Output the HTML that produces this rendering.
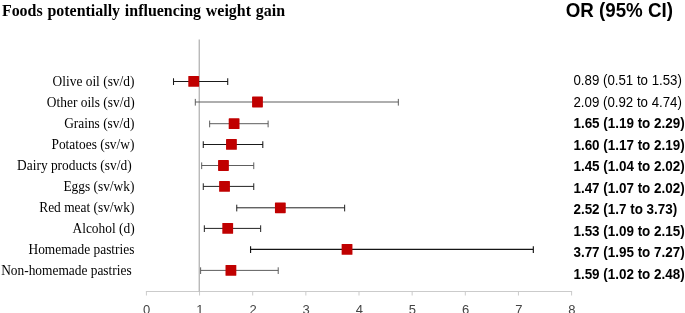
<!DOCTYPE html>
<html><head><meta charset="utf-8"><title>Forest plot</title>
<style>
html,body{margin:0;padding:0;background:#fff;}
svg{display:block;will-change:transform;}
.t{font-family:"Liberation Serif","Times New Roman",serif;font-weight:bold;font-size:15.95px;word-spacing:0.8px;fill:#000;}
.l{font-family:"Liberation Serif","Times New Roman",serif;font-size:13.4px;fill:#000;text-anchor:end;}
.h{font-family:"Liberation Sans",Arial,sans-serif;font-weight:bold;font-size:18.75px;fill:#000;}
.v{font-family:"Liberation Sans",Arial,sans-serif;font-size:13.28px;fill:#000;}
.vb{font-family:"Liberation Sans",Arial,sans-serif;font-size:13.44px;font-weight:bold;fill:#000;}
.a{font-family:"Liberation Sans",Arial,sans-serif;font-size:13px;fill:#444;text-anchor:middle;}
</style></head><body>
<svg width="685" height="313" viewBox="0 0 685 313">
<rect width="685" height="313" fill="#fff"/>
<text class="t" transform="translate(1.9,16.0) scale(1,1.04)">Foods potentially influencing weight gain</text>
<text class="h" transform="translate(565.7,16.5) scale(1,1.03)">OR (95% CI)</text>
<line x1="145.90" y1="291.5" x2="572.10" y2="291.5" stroke="#cbcbcb" stroke-width="1"/>
<line x1="146.40" y1="291.5" x2="146.40" y2="295.5" stroke="#cbcbcb" stroke-width="1"/>
<line x1="199.55" y1="291.5" x2="199.55" y2="295.5" stroke="#cbcbcb" stroke-width="1"/>
<line x1="252.70" y1="291.5" x2="252.70" y2="295.5" stroke="#cbcbcb" stroke-width="1"/>
<line x1="305.85" y1="291.5" x2="305.85" y2="295.5" stroke="#cbcbcb" stroke-width="1"/>
<line x1="359.00" y1="291.5" x2="359.00" y2="295.5" stroke="#cbcbcb" stroke-width="1"/>
<line x1="412.15" y1="291.5" x2="412.15" y2="295.5" stroke="#cbcbcb" stroke-width="1"/>
<line x1="465.30" y1="291.5" x2="465.30" y2="295.5" stroke="#cbcbcb" stroke-width="1"/>
<line x1="518.45" y1="291.5" x2="518.45" y2="295.5" stroke="#cbcbcb" stroke-width="1"/>
<line x1="571.60" y1="291.5" x2="571.60" y2="295.5" stroke="#cbcbcb" stroke-width="1"/>
<line x1="199.25" y1="39.5" x2="199.25" y2="291.5" stroke="#b0b0b0" stroke-width="1.25"/>
<text class="a" x="146.70" y="314.3">0</text>
<text class="a" x="199.85" y="314.3">1</text>
<text class="a" x="253.00" y="314.3">2</text>
<text class="a" x="306.15" y="314.3">3</text>
<text class="a" x="359.30" y="314.3">4</text>
<text class="a" x="412.45" y="314.3">5</text>
<text class="a" x="465.60" y="314.3">6</text>
<text class="a" x="518.75" y="314.3">7</text>
<text class="a" x="571.90" y="314.3">8</text>
<text class="l" transform="translate(134.40,86.40) scale(1,1.13)">Olive oil (sv/d)</text>
<path d="M173.51 81.40H227.72M173.51 78.30v6.7M227.72 78.30v6.7" stroke="#1a1a1a" stroke-width="1.05" fill="none"/>
<rect x="188.30" y="76.00" width="10.8" height="10.8" rx="0.6" fill="#c00000"/>
<text class="v" transform="translate(573.45,85.00) scale(1,1.05)">0.89 (0.51 to 1.53)</text>
<text class="l" transform="translate(134.60,107.40) scale(1,1.13)">Other oils (sv/d)</text>
<path d="M195.30 102.00H398.33M195.30 98.90v6.7M398.33 98.90v6.7" stroke="#555" stroke-width="0.95" fill="none"/>
<rect x="252.08" y="96.60" width="10.8" height="10.8" rx="0.6" fill="#c00000"/>
<text class="v" transform="translate(573.45,106.50) scale(1,1.05)">2.09 (0.92 to 4.74)</text>
<text class="l" transform="translate(134.40,128.40) scale(1,1.13)">Grains (sv/d)</text>
<path d="M209.65 123.70H268.11M209.65 120.60v6.7M268.11 120.60v6.7" stroke="#555" stroke-width="0.95" fill="none"/>
<rect x="228.70" y="118.30" width="10.8" height="10.8" rx="0.6" fill="#c00000"/>
<text class="vb" transform="translate(573.45,128.00) scale(1,1.05)">1.65 (1.19 to 2.29)</text>
<text class="l" transform="translate(134.40,149.40) scale(1,1.13)">Potatoes (sv/w)</text>
<path d="M203.27 144.40H262.80M203.27 141.30v6.7M262.80 141.30v6.7" stroke="#1a1a1a" stroke-width="1.05" fill="none"/>
<rect x="226.04" y="139.00" width="10.8" height="10.8" rx="0.6" fill="#c00000"/>
<text class="vb" transform="translate(573.45,149.50) scale(1,1.05)">1.60 (1.17 to 2.19)</text>
<text class="l" transform="translate(131.60,170.40) scale(1,1.13)">Dairy products (sv/d)</text>
<path d="M201.68 165.50H253.76M201.68 162.40v6.7M253.76 162.40v6.7" stroke="#555" stroke-width="0.95" fill="none"/>
<rect x="218.07" y="160.10" width="10.8" height="10.8" rx="0.6" fill="#c00000"/>
<text class="vb" transform="translate(573.45,171.00) scale(1,1.05)">1.45 (1.04 to 2.02)</text>
<text class="l" transform="translate(134.40,191.40) scale(1,1.13)">Eggs (sv/wk)</text>
<path d="M203.27 186.40H253.76M203.27 183.30v6.7M253.76 183.30v6.7" stroke="#222" stroke-width="1.0" fill="none"/>
<rect x="219.13" y="181.00" width="10.8" height="10.8" rx="0.6" fill="#c00000"/>
<text class="vb" transform="translate(573.45,192.50) scale(1,1.05)">1.47 (1.07 to 2.02)</text>
<text class="l" transform="translate(134.40,212.40) scale(1,1.13)">Red meat (sv/wk)</text>
<path d="M236.75 207.80H344.65M236.75 204.70v6.7M344.65 204.70v6.7" stroke="#222" stroke-width="1.0" fill="none"/>
<rect x="274.94" y="202.40" width="10.8" height="10.8" rx="0.6" fill="#c00000"/>
<text class="vb" transform="translate(573.45,214.00) scale(1,1.05)">2.52 (1.7 to 3.73)</text>
<text class="l" transform="translate(134.60,233.40) scale(1,1.13)">Alcohol (d)</text>
<path d="M204.33 228.40H260.67M204.33 225.30v6.7M260.67 225.30v6.7" stroke="#222" stroke-width="1.0" fill="none"/>
<rect x="222.32" y="223.00" width="10.8" height="10.8" rx="0.6" fill="#c00000"/>
<text class="vb" transform="translate(573.45,235.50) scale(1,1.05)">1.53 (1.09 to 2.15)</text>
<text class="l" transform="translate(134.40,254.40) scale(1,1.13)">Homemade pastries</text>
<path d="M250.57 249.40H533.33M250.57 246.30v6.7M533.33 246.30v6.7" stroke="#151515" stroke-width="1.15" fill="none"/>
<rect x="341.64" y="244.00" width="10.8" height="10.8" rx="0.6" fill="#c00000"/>
<text class="vb" transform="translate(573.45,257.00) scale(1,1.05)">3.77 (1.95 to 7.27)</text>
<text class="l" transform="translate(131.60,275.40) scale(1,1.13)">Non-homemade pastries</text>
<path d="M200.61 270.40H278.21M200.61 267.30v6.7M278.21 267.30v6.7" stroke="#555" stroke-width="0.95" fill="none"/>
<rect x="225.51" y="265.00" width="10.8" height="10.8" rx="0.6" fill="#c00000"/>
<text class="vb" transform="translate(573.45,278.50) scale(1,1.05)">1.59 (1.02 to 2.48)</text>
</svg>
</body></html>
